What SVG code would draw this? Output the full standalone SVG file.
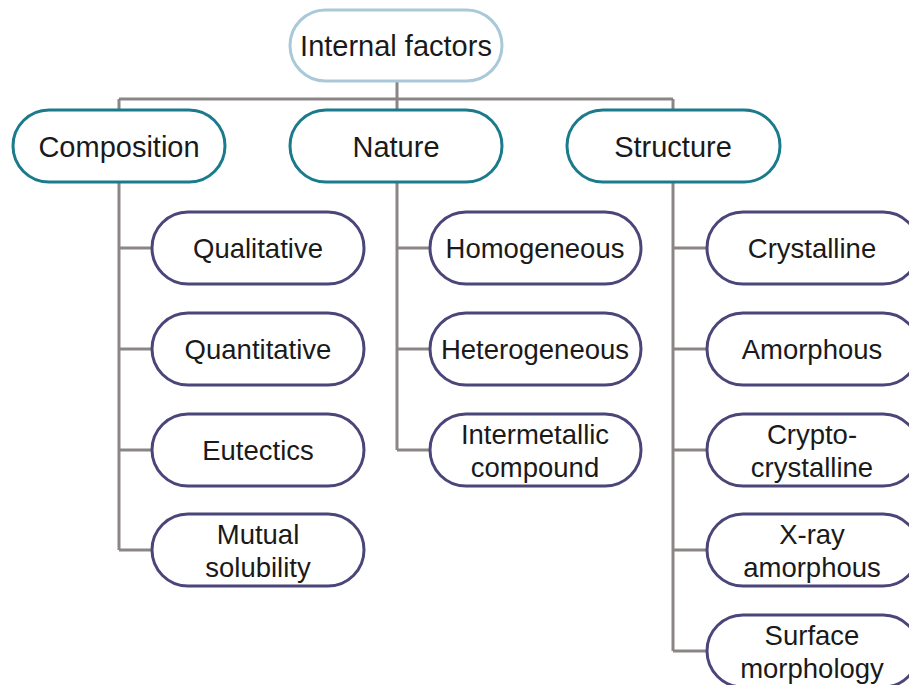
<svg xmlns="http://www.w3.org/2000/svg" width="909" height="685" viewBox="0 0 909 685">
<style>
text{font-family:"Liberation Sans",Arial,sans-serif;fill:#1a1a1a;text-anchor:middle;dominant-baseline:central}
.root rect{fill:#fff;stroke:#a9c9d8;stroke-width:3}
.l1 rect{fill:#fff;stroke:#1b7b8c;stroke-width:3}
.l1 text,.root text{font-size:29px}
.l2 rect{fill:#fff;stroke:#4b4679;stroke-width:3}
.l2 text{font-size:27.5px}
.conn{stroke:#8b8685;stroke-width:3;fill:none}
</style>
<rect width="909" height="685" fill="#fff"/>
<g id="connectors" class="conn">
<path d="M397 81V99M119 99H673M119 99V111M397 99V111M673 99V111"/>
<path d="M119 182V550M119 248H152M119 349H152M119 450H152M119 550H152"/>
<path d="M397 182V450M397 248H430M397 349H430M397 450H430"/>
<path d="M673 182V651M673 248H707M673 349H707M673 450H707M673 550H707M673 651H707"/>
</g>
<g id="internal-factors" class="root"><rect x="290" y="10" width="212" height="71" rx="35.5"/><text x="396" y="46">Internal factors</text></g>
<g id="composition" class="l1"><rect x="13" y="110" width="212" height="72" rx="36"/><text x="119" y="147">Composition</text></g>
<g id="nature" class="l1"><rect x="290" y="110" width="212" height="72" rx="36"/><text x="396" y="147">Nature</text></g>
<g id="structure" class="l1"><rect x="567" y="110" width="213" height="72" rx="36"/><text x="673" y="147">Structure</text></g>
<g id="qualitative" class="l2"><rect x="152" y="212" width="212" height="72" rx="36"/><text x="258" y="248">Qualitative</text></g>
<g id="quantitative" class="l2"><rect x="152" y="313" width="212" height="72" rx="36"/><text x="258" y="349">Quantitative</text></g>
<g id="eutectics" class="l2"><rect x="152" y="414" width="212" height="72" rx="36"/><text x="258" y="450">Eutectics</text></g>
<g id="mutual-solubility" class="l2"><rect x="152" y="514" width="212" height="72" rx="36"/><text x="258" y="534">Mutual</text><text x="258" y="567">solubility</text></g>
<g id="homogeneous" class="l2"><rect x="430" y="212" width="211" height="72" rx="36"/><text x="535" y="248">Homogeneous</text></g>
<g id="heterogeneous" class="l2"><rect x="430" y="313" width="211" height="72" rx="36"/><text x="535" y="349">Heterogeneous</text></g>
<g id="intermetallic-compound" class="l2"><rect x="430" y="414" width="211" height="72" rx="36"/><text x="535" y="434">Intermetallic</text><text x="535" y="467">compound</text></g>
<g id="crystalline" class="l2"><rect x="707" y="212" width="212" height="72" rx="36"/><text x="812" y="248">Crystalline</text></g>
<g id="amorphous" class="l2"><rect x="707" y="313" width="212" height="72" rx="36"/><text x="812" y="349">Amorphous</text></g>
<g id="cryptocrystalline" class="l2"><rect x="707" y="414" width="212" height="72" rx="36"/><text x="812" y="434">Crypto-</text><text x="812" y="467">crystalline</text></g>
<g id="x-ray-amorphous" class="l2"><rect x="707" y="514" width="212" height="72" rx="36"/><text x="812" y="534">X-ray</text><text x="812" y="567">amorphous</text></g>
<g id="surface-morphology" class="l2"><rect x="707" y="615" width="212" height="72" rx="36"/><text x="812" y="635">Surface</text><text x="812" y="668">morphology</text></g>
</svg>
